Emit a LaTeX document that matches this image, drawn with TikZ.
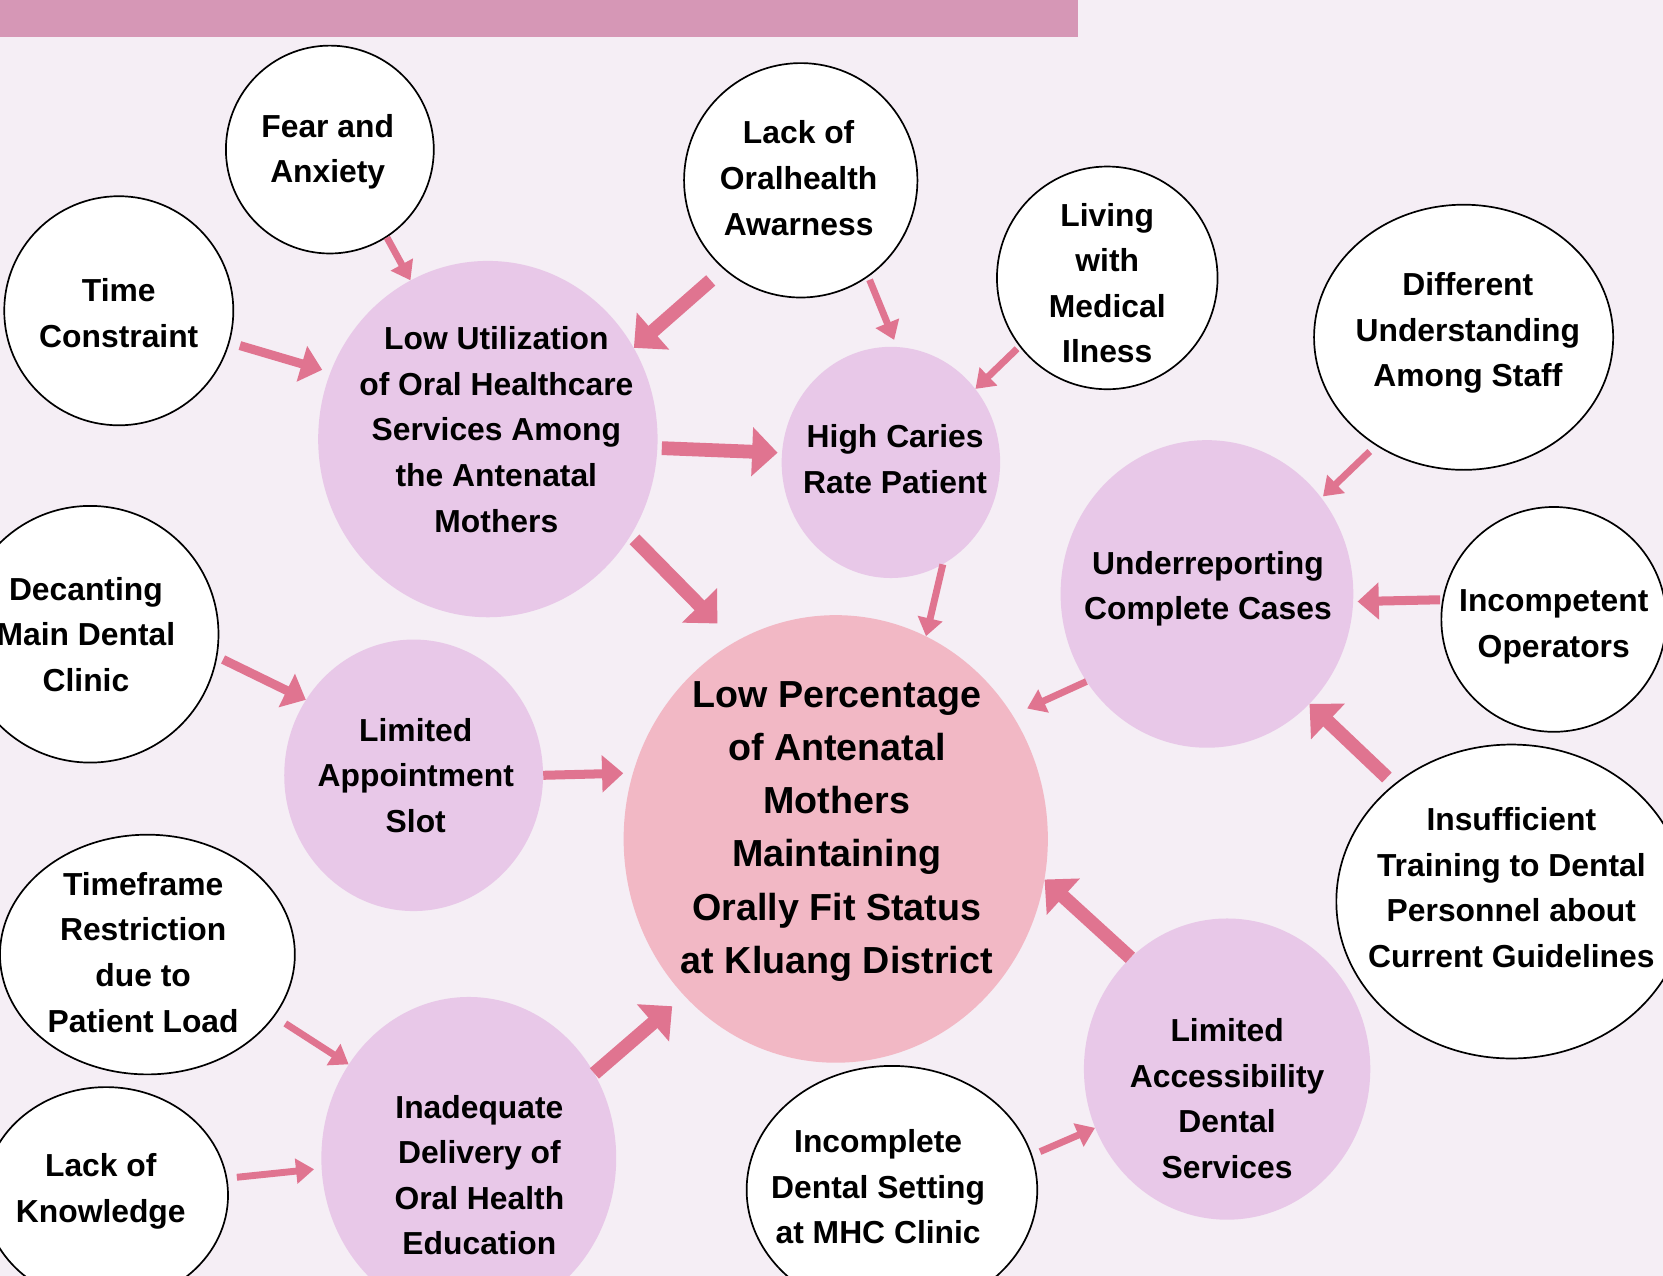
\documentclass[tikz,border=0pt]{standalone}
\usepackage{fontspec}
\setmainfont{Liberation Sans}
\usetikzlibrary{shapes.geometric,arrows.meta}
\definecolor{bgc}{HTML}{F5EEF5}
\definecolor{barc}{HTML}{D697B6}
\definecolor{arrc}{HTML}{E07490}
\definecolor{lavc}{HTML}{E8C8E8}
\definecolor{corec}{HTML}{F2B8C5}
\begin{document}
\begin{tikzpicture}[x=1pt,y=-1pt,
  wcirc/.style={ellipse, draw=black, line width=1.6pt, fill=white, inner sep=0pt},
  pcirc/.style={ellipse, fill=lavc, inner sep=0pt},
  ccirc/.style={ellipse, fill=corec, inner sep=0pt},
  lbl/.style={align=center, font=\fontsize{30}{43}\selectfont\bfseries, inner sep=0pt, yshift=-3pt},
  clbl/.style={align=center, font=\fontsize{35.5}{50}\selectfont\bfseries, inner sep=0pt, yshift=-4pt},
  bigarr/.style={draw=arrc, line width=13pt, -{Triangle[length=24pt,width=45pt]}},
  midarr/.style={draw=arrc, line width=8.5pt, -{Triangle[length=20pt,width=34pt]}},
  smallarr/.style={draw=arrc, line width=6.5pt, -{Triangle[length=17pt,width=23pt]}},
]
\useasboundingbox (0,0) rectangle (1568,1203);
\clip (0,0) rectangle (1568,1203);
\fill[bgc] (0,0) rectangle (1568,1203);
\fill[barc] (0,0) rectangle (1016,35);

% white cause circles
\node[wcirc, minimum width=196pt, minimum height=196pt] (fear) at (311,141) {};
\node[wcirc, minimum width=216pt, minimum height=216pt] (time) at (112,293) {};
\node[wcirc, minimum width=220pt, minimum height=221pt] (lackoh) at (755,170) {};
\node[wcirc, minimum width=208pt, minimum height=210pt] (living) at (1044,262) {};
\node[wcirc, minimum width=282pt, minimum height=250pt] (diff) at (1380,318) {};
\node[wcirc, minimum width=242pt, minimum height=242pt] (decant) at (85,598) {};
\node[wcirc, minimum width=212pt, minimum height=212pt] (incomp) at (1465,584) {};
\node[wcirc, minimum width=330pt, minimum height=296pt] (insuff) at (1425,850) {};
\node[wcirc, minimum width=278pt, minimum height=226pt] (timeframe) at (139,900) {};
\node[wcirc, minimum width=230pt, minimum height=204pt] (lackkn) at (100,1127) {};
\node[wcirc, minimum width=274pt, minimum height=234pt] (incset) at (841,1122) {};

% purple intermediate circles
\node[pcirc, minimum width=320pt, minimum height=336pt] (lowutil) at (460,414) {};
\node[pcirc, minimum width=206pt, minimum height=218pt] (caries) at (840,436) {};
\node[pcirc, minimum width=276pt, minimum height=290pt] (underrep) at (1138,560) {};
\node[pcirc, minimum width=244pt, minimum height=256pt] (appt) at (390,731) {};
\node[pcirc, minimum width=278pt, minimum height=304pt] (inadeq) at (442,1092) {};
\node[pcirc, minimum width=270pt, minimum height=284pt] (access) at (1157,1008) {};

% central problem
\node[ccirc, minimum width=400pt, minimum height=422pt] (core) at (788,791) {};

% texts
\node[lbl] (fearT) at (309,140) {Fear and\\Anxiety};
\node[lbl] (timeT) at (112,292) {Time\\Constraint};
\node[lbl] (lackohT) at (753,165) {Lack of\\Oralhealth\\Awarness};
\node[lbl] (livingT) at (1044,264) {Living\\with\\Medical\\Ilness};
\node[lbl] (diffT) at (1384,311) {Different\\Understanding\\Among Staff};
\node[lbl] (decantT) at (81,595) {Decanting\\Main Dental\\Clinic};
\node[lbl] (incompT) at (1465,588) {Incompetent\\Operators};
\node[lbl] (insuffT) at (1425,834) {Insufficient\\Training to Dental\\Personnel about\\Current Guidelines};
\node[lbl] (timeframeT) at (135,895) {Timeframe\\Restriction\\due to\\Patient Load};
\node[lbl] (lackknT) at (95,1120) {Lack of\\Knowledge};
\node[lbl] (incsetT) at (828,1116) {Incomplete\\Dental Setting\\at MHC Clinic};
\node[lbl] (lowutilT) at (468,402) {Low Utilization\\of Oral Healthcare\\Services Among\\the Antenatal\\Mothers};
\node[lbl] (cariesT) at (844,430) {High Caries\\Rate Patient};
\node[lbl] (underrepT) at (1139,552) {Underreporting\\Complete Cases};
\node[lbl] (apptT) at (392,728) {Limited\\Appointment\\Slot};
\node[lbl] (inadeqT) at (452,1105) {Inadequate\\Delivery of\\Oral Health\\Education};
\node[lbl] (accessT) at (1157,1033) {Limited\\Accessibility\\Dental\\Services};
\node[clbl] (coreT) at (789,780) {Low Percentage\\of Antenatal\\Mothers\\Maintaining\\Orally Fit Status\\at Kluang District};

% arrows
\draw[smallarr] (fear.-57) -- (lowutil.116.6);
\draw[midarr, shorten <=10pt, shorten >=8pt] (time.-16.7) -- (lowutil.157.8);
\draw[bigarr, shorten <=16pt] (lackoh.229.5) -- (lowutil.32.2);
\draw[smallarr, shorten <=3pt, shorten >=7pt] (lackoh.-55.5) -- (caries.87.5);
\draw[smallarr, shorten <=3pt] (living.218.2) -- (caries.41.9);
\draw[bigarr, shorten <=4pt, shorten >=4pt] (lowutil.-3.5) -- (caries.175.7);
\draw[bigarr, shorten <=5pt, shorten >=24pt] (lowutil.-34.7) -- (core.117.7);
\draw[smallarr] (caries.-63.7) -- (core.66.2);
\draw[smallarr, shorten <=8pt, shorten >=2pt] (diff.-129.4) -- (underrep.40.5);
\draw[midarr, shorten <=2pt, shorten >=4pt] (incomp.170) -- (underrep.-3.2);
\draw[smallarr, shorten >=15pt] (underrep.-144) -- (core.35.9);
\draw[bigarr, shorten <=9pt] (insuff.135.7) -- (underrep.-47.9);
\draw[midarr, shorten <=6pt] (decant.-10.9) -- (appt.145.9);
\draw[midarr, shorten >=9pt] (appt.0.9) -- (core.162.9);
\draw[bigarr] (access.131.8) -- (core.-11.2);
\draw[smallarr, shorten <=12pt] (timeframe.-26.7) -- (inadeq.142.2);
\draw[smallarr, shorten <=9pt, shorten >=7pt] (lackkn.8.4) -- (inadeq.-176.9);
\draw[bigarr, shorten >=15pt] (inadeq.34.8) -- (core.-134.4);
\draw[smallarr, shorten <=8pt] (incset.14.9) -- (access.-156.1);
\end{tikzpicture}
\end{document}
